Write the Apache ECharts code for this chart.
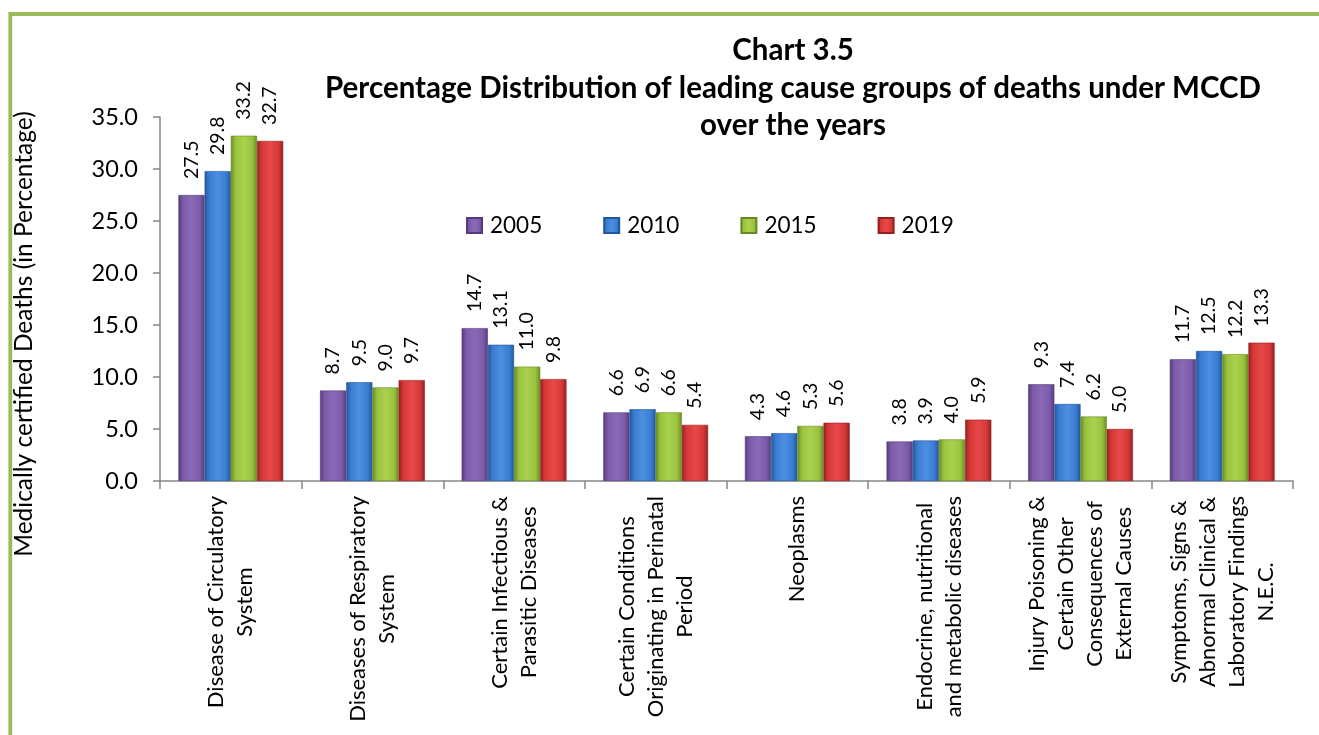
<!DOCTYPE html>
<html><head><meta charset="utf-8">
<script src="https://cdn.jsdelivr.net/npm/echarts@6/dist/echarts.min.js"></script>
<style>html,body{margin:0;padding:0;background:#fff}#c{width:1319px;height:735px}</style>
</head><body><div id="c"></div>
<script>
const categories = [
  "Disease of Circulatory\nSystem",
  "Diseases of Respiratory\nSystem",
  "Certain Infectious &\nParasitic Diseases",
  "Certain Conditions\nOriginating in Perinatal\nPeriod",
  "Neoplasms",
  "Endocrine, nutritional\nand metabolic diseases",
  "Injury Poisoning &\nCertain Other\nConsequences of\nExternal Causes",
  "Symptoms, Signs &\nAbnormal Clinical &\nLaboratory Findings\nN.E.C."
];
const years = ["2005", "2010", "2015", "2019"];
const values2005 = [27.5, 8.7, 14.7, 6.6, 4.3, 3.8, 9.3, 11.7];
const values2010 = [29.8, 9.5, 13.1, 6.9, 4.6, 3.9, 7.4, 12.5];
const values2015 = [33.2, 9.0, 11.0, 6.6, 5.3, 4.0, 6.2, 12.2];
const values2019 = [32.7, 9.7, 9.8, 5.4, 5.6, 5.9, 5.0, 13.3];
const yMin = 0, yMax = 35, yStep = 5;
const titleLines = ["Chart 3.5", "Percentage Distribution of leading cause groups of deaths under MCCD", "over the years"];
const yAxisTitle = "Medically certified Deaths (in Percentage)";

const FONT = "Lato";
const palettes = [
  ["#553b7c", "#8a69b8", "#7c5ba8"],
  ["#24569a", "#4d8fe0", "#3a7cd2"],
  ["#678a22", "#aad24e", "#9ac23e"],
  ["#942020", "#e84848", "#d63838"]
];
function grad(p) {
  return {type: "linear", x: 0, y: 0, x2: 1, y2: 0, colorStops: [
    {offset: 0, color: p[0]}, {offset: 0.18, color: p[2]}, {offset: 0.5, color: p[1]},
    {offset: 0.82, color: p[2]}, {offset: 1, color: p[0]}]};
}
const allValues = [values2005, values2010, values2015, values2019];
const series = years.map((y, i) => ({
  name: y, type: "bar", data: allValues[i],
  barGap: "0%", barCategoryGap: "26%",
  itemStyle: {color: grad(palettes[i]), borderColor: palettes[i][0], borderWidth: 0.6},
  label: {show: true, position: "top", rotate: 90, align: "left", verticalAlign: "middle",
    distance: 16, fontFamily: FONT, fontSize: 19.5, color: "#000",
    formatter: p => p.value.toFixed(1)}
}));

const chart = echarts.init(document.getElementById("c"), null, {renderer: "canvas"});
chart.setOption({
  animation: false,
  backgroundColor: "#fff",
  title: {text: titleLines.join("\n"), left: 788, top: 27, textAlign: "center",
    textStyle: {fontFamily: FONT, fontWeight: "bold", fontSize: 29.5, lineHeight: 37.5, color: "#000"}},
  legend: {data: years, left: 461, top: 209, itemWidth: 15, itemHeight: 15, itemGap: 61, icon: "rect",
    textStyle: {fontFamily: FONT, fontSize: 22.5, color: "#000", padding: [0, 0, 0, 3]}},
  grid: {left: 160, right: 26, top: 117, bottom: 254, containLabel: false, outerBoundsMode: "none"},
  xAxis: {type: "category", data: categories,
    axisLine: {lineStyle: {color: "#868686", width: 1.5}},
    axisTick: {show: true, length: 8, lineStyle: {color: "#868686", width: 1.5}},
    axisLabel: {interval: 0, rotate: 90, margin: 15, color: "#000",
      formatter: v => v.split("\n").map(l => "{c|" + l + "}").join("\n"),
      rich: {c: {align: "center", fontFamily: FONT, fontSize: 22, lineHeight: 29, color: "#000"}}}},
  yAxis: {type: "value", min: yMin, max: yMax, interval: yStep,
    name: yAxisTitle, nameLocation: "middle", nameRotate: 90, nameGap: 123,
    nameTextStyle: {fontFamily: FONT, fontSize: 24.5, color: "#000", padding: [0, 70, 0, 0]},
    axisLine: {show: true, lineStyle: {color: "#868686", width: 1.5}},
    axisTick: {show: true, length: 7, lineStyle: {color: "#868686", width: 1.5}},
    splitLine: {show: false},
    axisLabel: {margin: 22, fontFamily: FONT, fontSize: 23.5, color: "#000", formatter: v => v.toFixed(1)}},
  graphic: [{type: "rect", shape: {x: 10.3, y: 14, width: 1500, height: 1000},
    style: {fill: "none", stroke: "#9bbb59", lineWidth: 3.8}, silent: true, z: 100}],
  series: series
});
</script></body></html>
